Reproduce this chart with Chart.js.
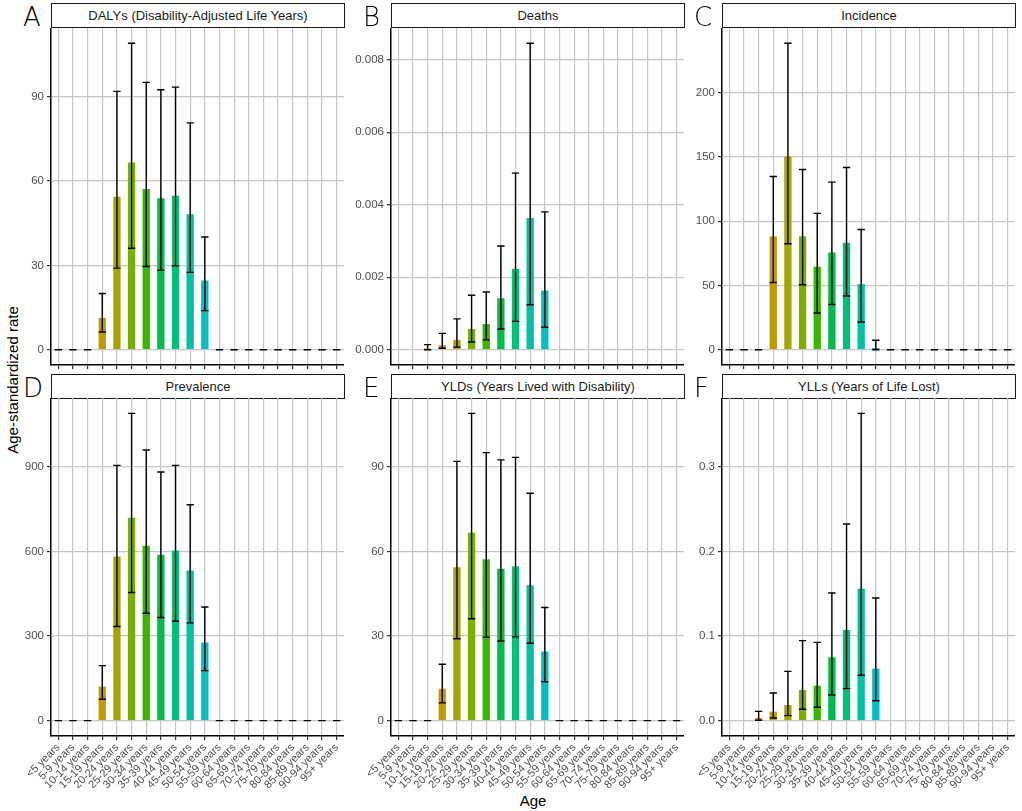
<!DOCTYPE html>
<html>
<head>
<meta charset="utf-8">
<script src="https://cdn.jsdelivr.net/npm/chart.js@4.4.0/dist/chart.umd.min.js"></script>
<style>
  body { margin: 0; background: #fff; font-family: "Liberation Sans", Arial, sans-serif; }
  #wrap { position: relative; width: 1022px; height: 811px; overflow: hidden; }
  .panel { position: absolute; }
  .strip { position: absolute; box-sizing: border-box; border: 1px solid #1a1a1a; background: #fff;
           font-size: 13px; color: #1a1a1a; text-align: center; line-height: 23px; }
  .tag { position: absolute; font-family: "DejaVu Sans", sans-serif; font-weight: 200;
         font-size: 26px; color: #000; line-height: 27px; }
  .ytitle { position: absolute; left: 12px; top: 380px; font-size: 15px; color: #000;
            transform: translate(-50%, -50%) rotate(-90deg); white-space: nowrap; }
  .xtitle { position: absolute; left: 533px; top: 800px; font-size: 15px; color: #000;
            transform: translate(-50%, -50%); }
</style>
</head>
<body>
<div id="wrap">
  <div class="ytitle">Age-standardized rate</div>
  <div class="xtitle">Age</div>
</div>
<script>
// Age groups on the x axis
const ageLabels = ['<5 years', '5-9 years', '10-14 years', '15-19 years', '20-24 years', '25-29 years',
  '30-34 years', '35-39 years', '40-44 years', '45-49 years', '50-54 years', '55-59 years',
  '60-64 years', '65-69 years', '70-74 years', '75-79 years', '80-84 years', '85-89 years',
  '90-94 years', '95+ years'];

// A - DALYs
const dalysVal = [0, 0, 0, 11.3, 54.4, 66.6, 57.2, 53.9, 54.8, 48.2, 24.6, 0, 0, 0, 0, 0, 0, 0, 0, 0];
const dalysLo  = [0, 0, 0, 6.3, 29.0, 36.1, 29.6, 28.3, 29.8, 27.5, 13.9, 0, 0, 0, 0, 0, 0, 0, 0, 0];
const dalysHi  = [0, 0, 0, 20.0, 91.9, 109.0, 95.1, 92.5, 93.4, 80.7, 40.1, 0, 0, 0, 0, 0, 0, 0, 0, 0];
const dalysTicks = ['0', '30', '60', '90'];

// B - Deaths
const deathsVal = [null, null, 0.00003, 0.00012, 0.00027, 0.00057, 0.00071, 0.00142, 0.00223, 0.00363, 0.00163,
  null, null, null, null, null, null, null, null, null];
const deathsLo  = [null, null, 0, 0.00004, 0.00007, 0.00021, 0.00027, 0.00057, 0.00078, 0.00124, 0.00062,
  null, null, null, null, null, null, null, null, null];
const deathsHi  = [null, null, 0.00014, 0.00045, 0.00085, 0.0015, 0.00159, 0.00286, 0.00487, 0.00845, 0.0038,
  null, null, null, null, null, null, null, null, null];
const deathsTicks = ['0.000', '0.002', '0.004', '0.006', '0.008'];

// C - Incidence
const incidenceVal = [0, 0, 0, 88.1, 150.3, 88.3, 64.5, 75.6, 83.2, 51.0, 1.3, 0, 0, 0, 0, 0, 0, 0, 0, 0];
const incidenceLo  = [0, 0, 0, 52.3, 82.4, 50.5, 28.5, 35.2, 41.7, 21.5, 0, 0, 0, 0, 0, 0, 0, 0, 0, 0];
const incidenceHi  = [0, 0, 0, 134.7, 238.3, 140.2, 106.0, 130.3, 141.7, 93.5, 7.3, 0, 0, 0, 0, 0, 0, 0, 0, 0];
const incidenceTicks = ['0', '50', '100', '150', '200'];

// D - Prevalence
const prevalenceVal = [0, 0, 0, 120.6, 581.8, 719, 619.6, 587.7, 603, 532, 276.7, 0, 0, 0, 0, 0, 0, 0, 0, 0];
const prevalenceLo  = [0, 0, 0, 75.7, 333.5, 454, 380.8, 365.4, 352.4, 346.5, 177.4, 0, 0, 0, 0, 0, 0, 0, 0, 0];
const prevalenceHi  = [0, 0, 0, 195, 904.6, 1089, 959, 881, 904.6, 765, 403, 0, 0, 0, 0, 0, 0, 0, 0, 0];
const prevalenceTicks = ['0', '300', '600', '900'];

// E - YLDs
const yldsVal = [0, 0, 0, 11.3, 54.4, 66.6, 57.2, 53.8, 54.7, 48.0, 24.5, 0, 0, 0, 0, 0, 0, 0, 0, 0];
const yldsLo  = [0, 0, 0, 6.3, 29.0, 36.1, 29.6, 28.2, 29.7, 27.4, 13.8, 0, 0, 0, 0, 0, 0, 0, 0, 0];
const yldsHi  = [0, 0, 0, 20.0, 91.9, 108.9, 95.0, 92.4, 93.3, 80.6, 40.1, 0, 0, 0, 0, 0, 0, 0, 0, 0];
const yldsTicks = ['0', '30', '60', '90'];

// F - YLLs
const yllsVal = [null, null, 0.003, 0.0106, 0.0185, 0.0363, 0.0414, 0.0749, 0.1072, 0.156, 0.0615,
  null, null, null, null, null, null, null, null, null];
const yllsLo  = [null, null, 0.0005, 0.0032, 0.0059, 0.0134, 0.0158, 0.0304, 0.0378, 0.0536, 0.0236,
  null, null, null, null, null, null, null, null, null];
const yllsHi  = [null, null, 0.011, 0.0327, 0.0583, 0.0946, 0.0926, 0.151, 0.2326, 0.3634, 0.145,
  null, null, null, null, null, null, null, null, null];
const yllsTicks = ['0.0', '0.1', '0.2', '0.3'];

// ggplot-style hue palette, one colour per age group
const barColors = ['#F8766D', '#EA8331', '#D89000', '#C09B00', '#A3A500', '#7CAE00', '#39B600', '#00BB4E',
  '#00BF7D', '#00C1A3', '#00BFC4', '#00BAE0', '#00B0F6', '#35A2FF', '#9590FF', '#C77CFF', '#E76BF3',
  '#FA62DB', '#FF62BC', '#FF6C91'];

const panels = [
  { tag: 'A', title: 'DALYs (Disability-Adjusted Life Years)', val: dalysVal, lo: dalysLo, hi: dalysHi, ticks: dalysTicks, col: 0, row: 0 },
  { tag: 'B', title: 'Deaths', val: deathsVal, lo: deathsLo, hi: deathsHi, ticks: deathsTicks, col: 1, row: 0 },
  { tag: 'C', title: 'Incidence', val: incidenceVal, lo: incidenceLo, hi: incidenceHi, ticks: incidenceTicks, col: 2, row: 0 },
  { tag: 'D', title: 'Prevalence', val: prevalenceVal, lo: prevalenceLo, hi: prevalenceHi, ticks: prevalenceTicks, col: 0, row: 1 },
  { tag: 'E', title: 'YLDs (Years Lived with Disability)', val: yldsVal, lo: yldsLo, hi: yldsHi, ticks: yldsTicks, col: 1, row: 1 },
  { tag: 'F', title: 'YLLs (Years of Life Lost)', val: yllsVal, lo: yllsLo, hi: yllsHi, ticks: yllsTicks, col: 2, row: 1 }
];

// layout of the facet grid (plot areas)
const plotLeft = [51, 391, 722];
const plotWidth = 293;
const stripTop = [3, 374];
const stripH = 25;
const plotTop = [28, 398];
const plotHeight = [337, 338];
const yAxisW = 50;
const xAxisH = [6, 52];
const FONT = '"Liberation Sans", Arial, sans-serif';

// draws the uncertainty intervals on top of the bars
const errorBars = {
  id: 'errorBars',
  afterDatasetsDraw(chart, args, opts) {
    const { ctx, scales: { x, y } } = chart;
    const half = (x.getPixelForValue(1) - x.getPixelForValue(0)) * 0.25;
    ctx.save();
    ctx.strokeStyle = '#000';
    ctx.lineWidth = 1.4;
    opts.lo.forEach((lo, i) => {
      const hi = opts.hi[i];
      if (lo == null || hi == null) return;
      const px = x.getPixelForValue(i);
      const yLo = y.getPixelForValue(lo);
      const yHi = y.getPixelForValue(hi);
      ctx.beginPath();
      ctx.moveTo(px, yLo); ctx.lineTo(px, yHi);
      ctx.moveTo(px - half, yLo); ctx.lineTo(px + half, yLo);
      ctx.moveTo(px - half, yHi); ctx.lineTo(px + half, yHi);
      ctx.stroke();
    });
    ctx.restore();
  }
};

const wrap = document.getElementById('wrap');

panels.forEach(p => {
  const left = plotLeft[p.col];
  const top = plotTop[p.row];
  const w = plotWidth + yAxisW;
  const h = plotHeight[p.row] + xAxisH[p.row];

  // strip label + panel letter
  const strip = document.createElement('div');
  strip.className = 'strip';
  strip.style.left = left + 'px';
  strip.style.top = stripTop[p.row] + 'px';
  strip.style.width = (plotWidth + 1) + 'px';
  strip.style.height = stripH + 'px';
  strip.textContent = p.title;
  wrap.appendChild(strip);

  const tag = document.createElement('div');
  tag.className = 'tag';
  tag.style.left = (left - 28) + 'px';
  tag.style.top = (stripTop[p.row] + 1) + 'px';
  tag.textContent = p.tag;
  wrap.appendChild(tag);

  const box = document.createElement('div');
  box.className = 'panel';
  box.style.left = (left - yAxisW) + 'px';
  box.style.top = top + 'px';
  const canvas = document.createElement('canvas');
  canvas.width = w;
  canvas.height = h;
  canvas.style.width = w + 'px';
  canvas.style.height = h + 'px';
  box.appendChild(canvas);
  wrap.appendChild(box);

  // y range like ggplot: 5% expansion around [0, max upper]
  const yMax = Math.max(...p.hi.filter(v => v != null));
  const tickVals = p.ticks.map(Number);
  const showX = p.row === 1;

  new Chart(canvas, {
    type: 'bar',
    data: {
      labels: ageLabels,
      datasets: [{
        data: p.val,
        backgroundColor: barColors,
        borderWidth: 0,
        categoryPercentage: 1,
        barPercentage: 0.5
      }]
    },
    options: {
      responsive: false,
      animation: false,
      layout: { padding: 0 },
      plugins: {
        legend: { display: false },
        tooltip: { enabled: false },
        errorBars: { lo: p.lo, hi: p.hi }
      },
      scales: {
        x: {
          offset: true,
          grid: { offset: false, color: '#c6c6c6', lineWidth: 1.2, tickColor: '#333', tickLength: 4 },
          border: { display: true, color: '#000', width: 1.5 },
          ticks: {
            display: showX,
            autoSkip: false,
            maxRotation: 45,
            minRotation: 45,
            padding: 1,
            color: '#4d4d4d',
            font: { family: FONT, size: 11 }
          },
          afterFit(s) {
            s.height = xAxisH[p.row];
            s.paddingLeft = 0;
            s.paddingRight = 0;
          }
        },
        y: {
          min: -0.05 * yMax,
          max: 1.05 * yMax,
          grid: { color: '#c6c6c6', lineWidth: 1.2, tickColor: '#333', tickLength: 4 },
          border: { display: true, color: '#000', width: 1.5 },
          ticks: {
            padding: 3,
            color: '#4d4d4d',
            font: { family: FONT, size: 11.5 },
            callback: (v, i) => p.ticks[i]
          },
          afterBuildTicks(s) {
            s.ticks = tickVals.map(v => ({ value: v }));
          },
          afterFit(s) {
            s.width = yAxisW;
            s.paddingTop = 0;
            s.paddingBottom = 0;
          }
        }
      }
    },
    plugins: [errorBars]
  });
});
</script>
</body>
</html>
